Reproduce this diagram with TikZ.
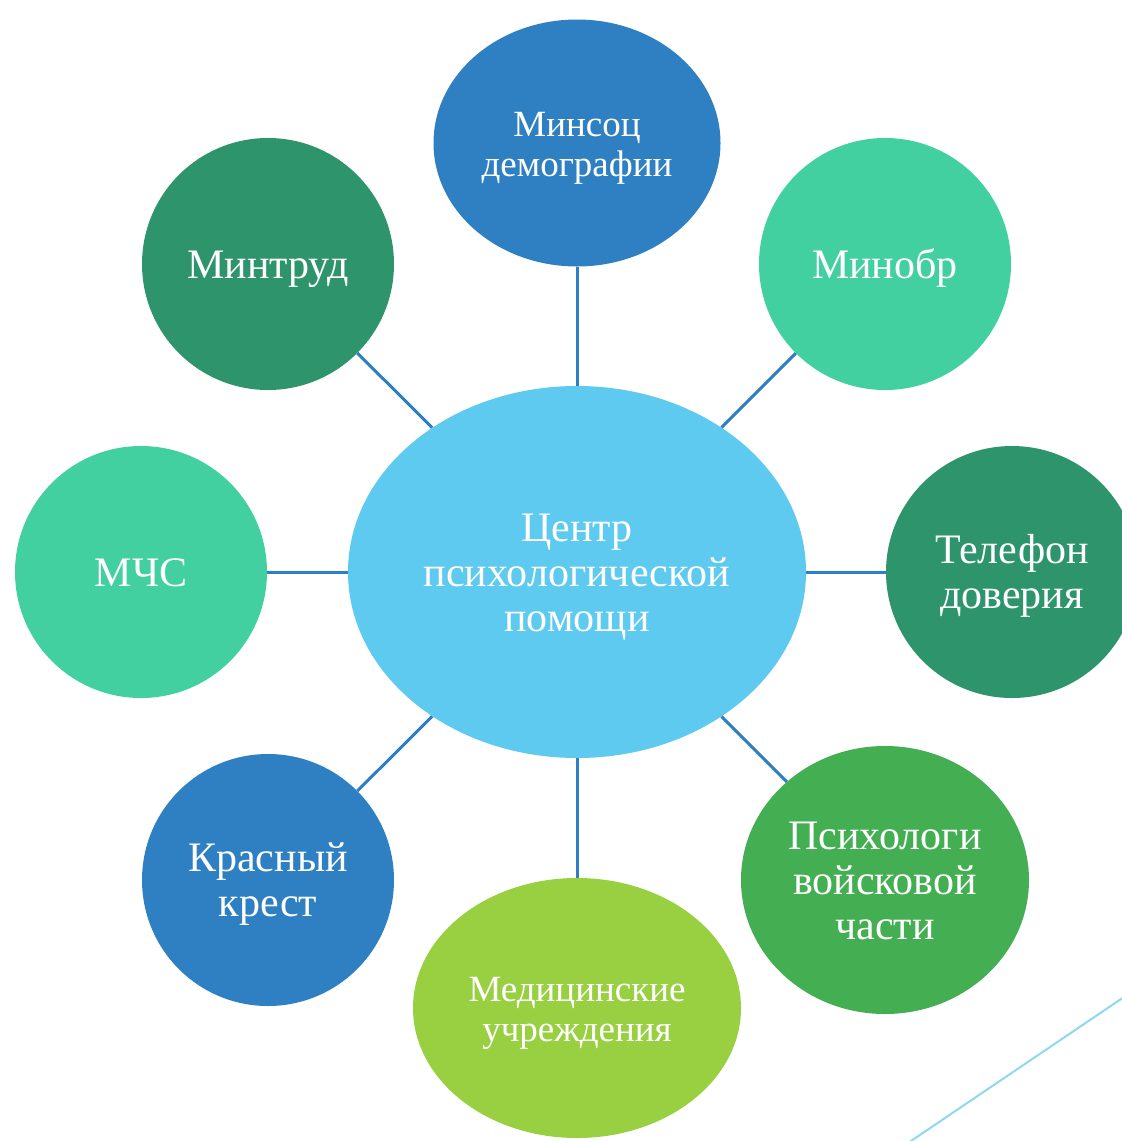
\documentclass[tikz,border=0pt]{standalone}
\usepackage{fontspec}
\setmainfont{Liberation Serif}
\usetikzlibrary{shapes.geometric}
\definecolor{cblue}{HTML}{2E80C2}
\definecolor{cdkgreen}{HTML}{2E946C}
\definecolor{cteal}{HTML}{43D0A0}
\definecolor{cgreen}{HTML}{44AE52}
\definecolor{clime}{HTML}{98D042}
\definecolor{ccenter}{HTML}{5ECAEF}
\definecolor{cline}{HTML}{2E7EC4}
\definecolor{clight}{HTML}{8FD9F0}
\newcommand\bubtxt[1]{\raisebox{0pt}[\dimexpr\height+10pt\relax][\depth]{\begin{tabular}{@{}c@{}}#1\end{tabular}}}
\begin{document}
\begin{tikzpicture}[x=1pt,y=-1pt,
  bubble/.style={ellipse, inner sep=0pt, text=white,
    font=\fontsize{42}{45}\selectfont},
  smalltext/.style={font=\fontsize{37}{40}\selectfont},
  link/.style={draw=cline, line width=3pt}]
\clip (0,0) rectangle (1122,1141);
\fill[white] (0,0) rectangle (1122,1141);
\draw[clight, line width=2pt] (908,1143) -- (1124,997);
\node[bubble, fill=ccenter, minimum width=458pt, minimum height=372pt] (c) at (577,572) {\bubtxt{Центр\\психологической\\помощи}};
\node[bubble, smalltext, fill=cblue, minimum width=287pt, minimum height=247pt] (minsoc) at (577,143) {\bubtxt{Минсоц\\демографии}};
\node[bubble, fill=cdkgreen, minimum width=252pt, minimum height=252pt] (mintrud) at (268,264) {\bubtxt{Минтруд}};
\node[bubble, fill=cteal, minimum width=252pt, minimum height=252pt] (minobr) at (885,264) {\bubtxt{Минобр}};
\node[bubble, fill=cteal, minimum width=252pt, minimum height=252pt] (mchs) at (141,572) {\bubtxt{МЧС}};
\node[bubble, fill=cdkgreen, minimum width=252pt, minimum height=252pt] (tel) at (1012,572) {\bubtxt{Телефон\\доверия}};
\node[bubble, fill=cblue, minimum width=252pt, minimum height=252pt] (red) at (268,880) {\bubtxt{Красный\\крест}};
\node[bubble, fill=cgreen, minimum width=288pt, minimum height=268pt] (psy) at (885,880) {\bubtxt{Психологи\\войсковой\\части}};
\node[bubble, smalltext, fill=clime, minimum width=328pt, minimum height=260pt] (med) at (577,1008) {\bubtxt{Медицинские\\учреждения}};
\draw[link] (c) -- (minsoc);
\draw[link] (c) -- (mintrud);
\draw[link] (c) -- (minobr);
\draw[link] (c) -- (mchs);
\draw[link] (c) -- (tel);
\draw[link] (c) -- (red);
\draw[link] (c) -- (psy);
\draw[link] (c) -- (med);
\end{tikzpicture}
\end{document}
